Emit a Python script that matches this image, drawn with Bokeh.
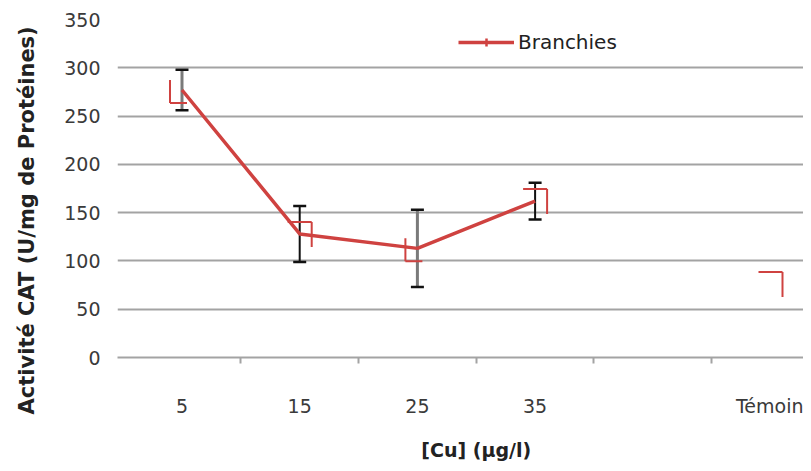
import math
from bokeh.plotting import figure
from bokeh.models import (Range1d, FixedTicker, ColumnDataSource, Whisker, TeeHead,
                          Legend, LegendItem, LinearAxis)
from bokeh.embed import file_html
from bokeh.resources import INLINE

# ---- data ----
categories = ["5", "15", "25", "35", "", "Témoin"]
cat_values = [277, 128, 113, 162, float("nan"), 76]
cat_errors = [21, 29, 40, 19, float("nan"), float("nan")]
y_ticks = [0, 50, 100, 150, 200, 250, 300, 350]
series_name = "Branchies"
x_title = "[Cu] (µg/l)"
y_title = "Activité CAT (U/mg de Protéines)"

# ---- styles / layout ----
RED = "#cf4240"
GRID = "#a3a3a3"
TXT = "#3a3a3a"
FONT = "DejaVu Sans"
FS = "19px"
err_colors = ["#7a7a7a", "#111111", "#7a7a7a", "#111111", None, None]
err_widths = [3.0, 2.0, 3.0, 2.0, 0, 0]
corner_kind = ["bl", "tr", "bl", "tr", None, "tr"]
X_TITLE_AT = 3.5      # title centre along the x axis (data units)
Y_TITLE_AT = 142      # title centre along the y axis (data units)

W, H = 803, 463
FL, FR, FT, FB = 117, 0, 19, 106
x0 = 0.452
x1 = x0 + (W - FL - FR) / 117.7
y0, y1 = 0, 350

p = figure(width=W, height=H, output_backend="svg", toolbar_location=None,
           x_range=Range1d(x0, x1), y_range=Range1d(y0, y1),
           min_border_left=FL, min_border_right=FR, min_border_top=FT,
           min_border_bottom=FB)
p.outline_line_color = None
p.background_fill_color = "white"
p.border_fill_color = "white"

xs = list(range(1, len(categories) + 1))
ys = cat_values

# line (broken by the empty category)
line_r = p.line(xs, ys, line_color=RED, line_width=3.5)
legend_cross = p.scatter([float("nan")], [float("nan")], marker="cross", size=16,
                         line_color=RED, line_width=2.5)

# error bars
for i, (x, v, e) in enumerate(zip(xs, cat_values, cat_errors)):
    if math.isnan(e):
        continue
    src = ColumnDataSource(dict(x=[x], lo=[v - e], hi=[v + e]))
    w = Whisker(source=src, base="x", lower="lo", upper="hi", dimension="height",
                line_color=err_colors[i], line_width=err_widths[i],
                upper_head=TeeHead(size=13, line_color="#111111", line_width=2.5),
                lower_head=TeeHead(size=13, line_color="#111111", line_width=2.5))
    p.add_layout(w)

# red corner marks next to each point (screen-pixel offsets converted to data units)
px_x = (W - FL - FR) / (x1 - x0)
px_y = (H - FT - FB) / (y1 - y0)
cx0, cy0, cx1, cy1 = [], [], [], []
for x, v, k in zip(xs, cat_values, corner_kind):
    if k is None or math.isnan(v):
        continue
    if k == "tr":
        vx, vy = x + 12 / px_x, v + 12 / px_y
        cx0 += [vx - 24 / px_x, vx]; cy0 += [vy, vy]
        cx1 += [vx, vx]; cy1 += [vy, vy - 25 / px_y]
    else:
        vx, vy = x - 12 / px_x, v - 13 / px_y
        cx0 += [vx, vx]; cy0 += [vy + 23 / px_y, vy]
        cx1 += [vx, vx + 17 / px_x]; cy1 += [vy, vy]
p.segment(cx0, cy0, cx1, cy1, line_color=RED, line_width=2.0)

# axes
p.xgrid.visible = False
p.ygrid.grid_line_color = GRID
p.ygrid.grid_line_width = 2
p.ygrid.ticker = FixedTicker(ticks=y_ticks)

label_pos = [x for x, c in zip(xs, categories) if c]
p.xaxis.ticker = FixedTicker(ticks=label_pos,
                             minor_ticks=[x + 0.5 for x in xs[:-1]])
p.xaxis.major_label_overrides = {x: c for x, c in zip(xs, categories) if c}
p.xaxis.major_tick_line_color = None
p.xaxis.major_tick_out = 0
p.xaxis.major_tick_in = 0
p.xaxis.minor_tick_line_color = GRID
p.xaxis.minor_tick_line_width = 2
p.xaxis.minor_tick_out = 6
p.xaxis.minor_tick_in = 0
p.xaxis.axis_line_color = GRID
p.xaxis.axis_line_width = 2
p.xaxis.major_label_standoff = 31
p.xaxis.major_label_text_font = FONT
p.xaxis.major_label_text_font_size = FS
p.xaxis.major_label_text_color = TXT

p.yaxis.ticker = FixedTicker(ticks=y_ticks)
p.yaxis.axis_line_color = None
p.yaxis.major_tick_line_color = None
p.yaxis.minor_tick_line_color = None
p.yaxis.major_tick_out = 0
p.yaxis.major_tick_in = 0
p.yaxis.major_label_standoff = 17
p.yaxis.major_label_text_font = FONT
p.yaxis.major_label_text_font_size = FS
p.yaxis.major_label_text_color = TXT


def title_axis(at, text, standoff, size, orient):
    return LinearAxis(ticker=FixedTicker(ticks=[at]), major_label_overrides={at: text},
                      axis_line_color=None, major_tick_line_color=None,
                      minor_tick_line_color=None, major_tick_out=0, major_tick_in=0,
                      minor_tick_out=0, minor_tick_in=0,
                      major_label_standoff=standoff, major_label_text_font=FONT,
                      major_label_text_font_size=size, major_label_text_font_style="bold",
                      major_label_text_color="#222222",
                      major_label_orientation=orient)


p.add_layout(title_axis(Y_TITLE_AT, y_title, 22, "21px", "vertical"), "left")
p.add_layout(title_axis(X_TITLE_AT, x_title, 19, "19px", "horizontal"), "below")

legend = Legend(items=[LegendItem(label=series_name, renderers=[line_r, legend_cross])],
                location=(341, 303), orientation="horizontal",
                glyph_width=56, glyph_height=20, label_standoff=4,
                padding=0, margin=0, border_line_color=None,
                background_fill_alpha=0, label_text_font=FONT,
                label_text_font_size="20px", label_text_color="#222222")
p.add_layout(legend)

open("out.html", "w").write(file_html(p, INLINE))
